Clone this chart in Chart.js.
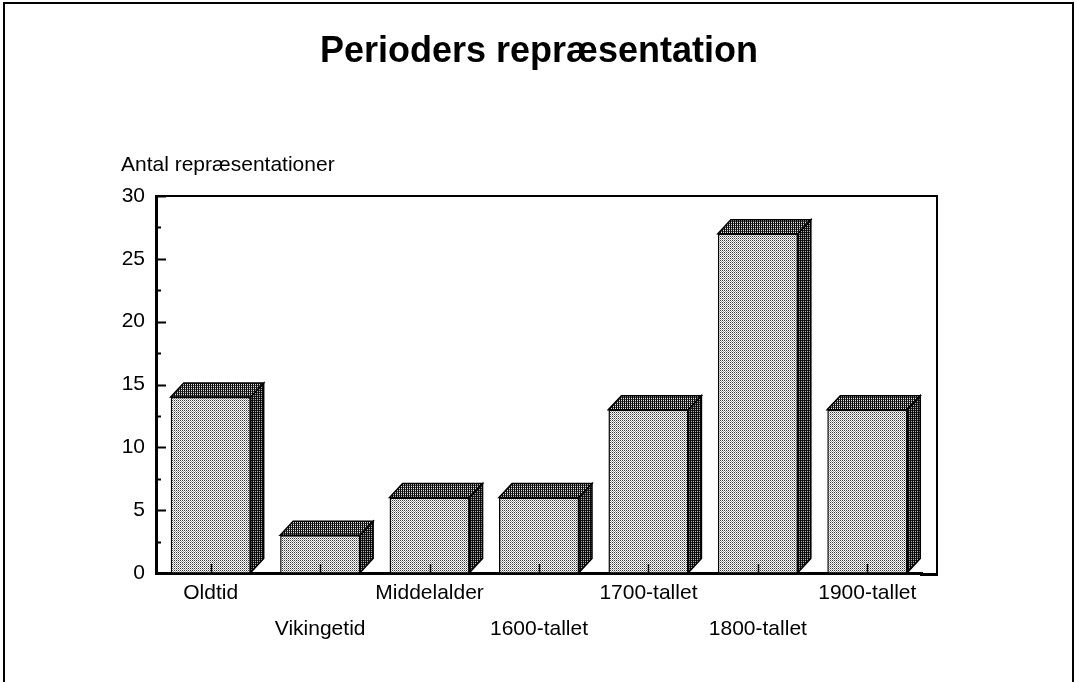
<!DOCTYPE html>
<html><head><meta charset="utf-8">
<style>html,body{margin:0;padding:0;background:#fff}#wrap{width:1078px;height:682px;position:relative}</style>
<script src="https://cdn.jsdelivr.net/npm/chart.js@4.4.1/dist/chart.umd.min.js"></script>
</head><body><div id="wrap"><canvas id="c" width="1078" height="682"></canvas></div>
<script>
const titleText = 'Perioders repræsentation';
const yAxisLabel = 'Antal repræsentationer';
const categories = ['Oldtid','Vikingetid','Middelalder','1600-tallet','1700-tallet','1800-tallet','1900-tallet'];
const values = [14, 3, 6, 6, 13, 27, 13];
const yMajorTicks = [0, 5, 10, 15, 20, 25, 30];
const yMinorTicks = [2.5, 7.5, 12.5, 17.5, 22.5, 27.5];

const FONT = "'Liberation Sans', Arial, Helvetica, sans-serif";

function makePattern(cells) {
  const c = document.createElement('canvas');
  c.width = 2; c.height = 2;
  const g = c.getContext('2d');
  cells.forEach((col, i) => { g.fillStyle = col; g.fillRect(i % 2, Math.floor(i / 2), 1, 1); });
  return document.getElementById('c').getContext('2d').createPattern(c, 'repeat');
}
const frontFill = makePattern(['#3a3a3a', '#ffffff', '#ffffff', '#a0a0a0']);
const topFill = makePattern(['#000000', '#e0e0e0', '#111111', '#444444']);
const sideFill = makePattern(['#000000', '#222222', '#111111', '#b0b0b0']);

const DX = 13, DY = 14;

const decor = {
  id: 'decor',
  afterDatasetsDraw(chart) {
    const ctx = chart.ctx;
    const meta = chart.getDatasetMeta(0);
    ctx.save();
    ctx.lineJoin = 'miter';
    meta.data.forEach(bar => {
      const p = bar.getProps(['x', 'y', 'base', 'width'], true);
      const l = p.x - p.width / 2, r = p.x + p.width / 2;
      ctx.beginPath();
      ctx.moveTo(l, p.y); ctx.lineTo(l + DX, p.y - DY); ctx.lineTo(r + DX, p.y - DY); ctx.lineTo(r, p.y); ctx.closePath();
      ctx.fillStyle = topFill; ctx.fill();
      ctx.lineWidth = 1.5; ctx.strokeStyle = '#000'; ctx.stroke();
      ctx.beginPath();
      ctx.moveTo(r, p.y); ctx.lineTo(r + DX, p.y - DY); ctx.lineTo(r + DX, p.base - DY); ctx.lineTo(r, p.base); ctx.closePath();
      ctx.fillStyle = sideFill; ctx.fill();
      ctx.stroke();
    });
    const ca = chart.chartArea;
    const ys = chart.scales.y, xs = chart.scales.x;
    ctx.strokeStyle = '#000'; ctx.lineWidth = 2;
    ys.ticks.forEach(t => {
      const py = Math.round(ys.getPixelForValue(t.value)) + 0.5;
      const len = yMajorTicks.includes(t.value) ? 10 : 5;
      ctx.beginPath(); ctx.moveTo(ca.left, py); ctx.lineTo(ca.left + len, py); ctx.stroke();
    });
    ctx.lineWidth = 1.5;
    xs.ticks.forEach((t, i) => {
      const px = Math.round(xs.getPixelForTick(i)) + 0.5;
      ctx.beginPath(); ctx.moveTo(px, ca.bottom); ctx.lineTo(px, ca.bottom - 9); ctx.stroke();
    });
    const boxRight = ca.right + 15;
    ctx.lineWidth = 2;
    ctx.beginPath();
    ctx.moveTo(ca.left, ca.top); ctx.lineTo(boxRight, ca.top); ctx.lineTo(boxRight, ca.bottom + 2);
    ctx.stroke();
    ctx.lineWidth = 3;
    ctx.beginPath(); ctx.moveTo(ca.right - 2, ca.bottom + 1.5); ctx.lineTo(boxRight + 1, ca.bottom + 1.5); ctx.stroke();
    ctx.fillStyle = '#000';
    ctx.font = '21px ' + FONT;
    ctx.textAlign = 'left'; ctx.textBaseline = 'alphabetic';
    ctx.fillText(yAxisLabel, 121, 171);
    ctx.lineWidth = 2;
    ctx.beginPath();
    ctx.moveTo(4, 700); ctx.lineTo(4, 3); ctx.lineTo(1073, 3); ctx.lineTo(1073, 700);
    ctx.stroke();
    ctx.restore();
  }
};

new Chart(document.getElementById('c'), {
  type: 'bar',
  data: {
    labels: categories.map((c, i) => i % 2 === 0 ? [c] : ['', c]),
    datasets: [{
      data: values,
      backgroundColor: frontFill,
      borderColor: '#000',
      borderWidth: 1.5,
      barPercentage: 0.731,
      categoryPercentage: 1
    }]
  },
  options: {
    responsive: false,
    animation: false,
    devicePixelRatio: 1,
    layout: { padding: 0 },
    plugins: {
      legend: { display: false },
      tooltip: { enabled: false },
      title: {
        display: true,
        text: titleText,
        color: '#000',
        font: { family: FONT, size: 36, weight: 'bold', lineHeight: 1.2 },
        padding: { top: 30, bottom: 122.8 }
      }
    },
    scales: {
      x: {
        grid: { display: true, drawOnChartArea: false, drawTicks: false },
        border: { display: true, color: '#000', width: 3 },
        ticks: { color: '#000', font: { family: FONT, size: 21, lineHeight: 1.72 }, padding: 2, maxRotation: 0, autoSkip: false },
        afterFit(s) { s.height = 109; }
      },
      y: {
        min: 0, max: 30,
        afterBuildTicks(s) { s.ticks = yMajorTicks.concat(yMinorTicks).sort((a, b) => a - b).map(v => ({ value: v })); },
        grid: { display: true, drawOnChartArea: false, drawTicks: false },
        border: { display: true, color: '#000', width: 3 },
        ticks: {
          color: '#000', font: { family: FONT, size: 21 }, padding: 11,
          callback: v => yMajorTicks.includes(v) ? String(v) : ''
        },
        afterFit(s) { s.width = 156; }
      },
      yRight: {
        position: 'right',
        min: 0, max: 30,
        grid: { display: false },
        border: { display: false },
        ticks: { display: false },
        afterFit(s) { s.width = 156; }
      }
    }
  },
  plugins: [decor]
});
</script>
</body></html>
